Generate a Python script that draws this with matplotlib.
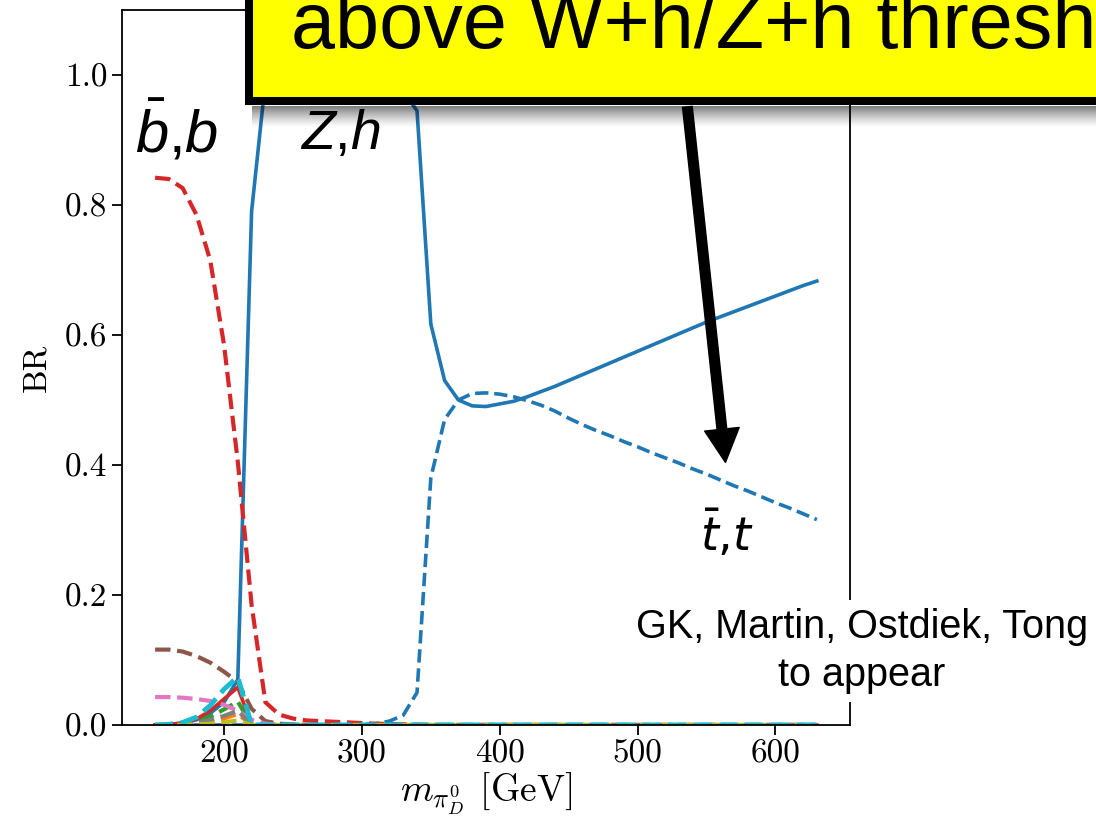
import numpy as np
import matplotlib.pyplot as plt
from matplotlib.patches import Rectangle

plt.rcParams['font.family'] = 'cmr10'
plt.rcParams['mathtext.fontset'] = 'cm'
plt.rcParams['axes.unicode_minus'] = False
plt.rcParams['mathtext.rm'] = 'Liberation Sans'
plt.rcParams['mathtext.it'] = 'Liberation Sans:italic'

# dark pion mass grid [GeV]
mass = [150, 160, 170, 180, 190, 200, 210, 220, 230, 240, 250, 260, 270, 280, 290,
        300, 310, 320, 330, 340, 350, 360, 370, 380, 390, 400, 410, 420, 430, 440,
        450, 460, 470, 480, 490, 500, 510, 520, 530, 540, 550, 560, 570, 580, 590,
        600, 610, 620, 630]

br_zh = [0.0, 0.001, 0.003, 0.008, 0.018, 0.035, 0.07, 0.79, 0.99, 0.985, 0.988,
         0.99, 0.99, 0.99, 0.99, 0.99, 0.99, 0.985, 0.975, 0.945, 0.617, 0.53, 0.50,
         0.491, 0.49, 0.494, 0.498, 0.505, 0.513, 0.521, 0.530, 0.539, 0.548, 0.557,
         0.566, 0.575, 0.584, 0.593, 0.602, 0.611, 0.620, 0.628, 0.636, 0.644, 0.652,
         0.660, 0.668, 0.676, 0.683]

br_tt = [0.0, 0.0, 0.0, 0.0, 0.0, 0.0, 0.0, 0.0, 0.0, 0.0, 0.0, 0.0, 0.0, 0.0, 0.0,
         0.001, 0.002, 0.006, 0.015, 0.05, 0.38, 0.47, 0.50, 0.51, 0.511, 0.509,
         0.505, 0.499, 0.492, 0.483, 0.472, 0.462, 0.453, 0.445, 0.436, 0.428, 0.419,
         0.411, 0.403, 0.394, 0.386, 0.377, 0.368, 0.360, 0.351, 0.342, 0.334, 0.325,
         0.316]

br_bb = [0.842, 0.840, 0.826, 0.785, 0.715, 0.585, 0.405, 0.185, 0.035, 0.016, 0.010,
         0.007, 0.006, 0.005, 0.004, 0.003, 0.002, 0.0015, 0.001, 0.0005] + [0.0] * 29

# smaller channels, 150-250 GeV, zero above
br_brown = [0.116, 0.116, 0.113, 0.106, 0.096, 0.082, 0.066, 0.025, 0.006, 0.002, 0.001]
br_pink = [0.043, 0.043, 0.042, 0.040, 0.037, 0.031, 0.022, 0.008, 0.002, 0.0005, 0.0]
br_cyan = [0.0, 0.001, 0.004, 0.012, 0.030, 0.055, 0.074, 0.0, 0.0, 0.0, 0.0]
br_red = [0.0, 0.001, 0.003, 0.009, 0.022, 0.040, 0.058, 0.0, 0.0, 0.0, 0.0]
br_green = [0.0, 0.0, 0.002, 0.006, 0.013, 0.024, 0.036, 0.0, 0.0, 0.0, 0.0]
br_gray = [0.0, 0.0, 0.001, 0.003, 0.008, 0.014, 0.022, 0.0, 0.0, 0.0, 0.0]
br_orange = [0.0, 0.0, 0.0, 0.002, 0.005, 0.010, 0.017, 0.0, 0.0, 0.0, 0.0]
br_olive = [0.0, 0.0, 0.0, 0.001, 0.002, 0.004, 0.007, 0.0, 0.0, 0.0, 0.0]


def pad(vals):
    return vals + [0.0] * (len(mass) - len(vals))


fig = plt.figure(figsize=(10.96, 8.22), dpi=100)
ax = fig.add_axes([0.1113, 0.118, 0.6642, 0.8698])

ax.plot(mass, br_zh, color='tab:blue', lw=2.6)
ax.plot(mass, br_tt, color='tab:blue', lw=2.6, ls='--')
ax.plot(mass, pad(br_orange), color='tab:orange', lw=3, ls='--')
ax.plot(mass, pad(br_green), color='tab:green', lw=3, ls='--')
ax.plot(mass, br_bb, color='tab:red', lw=3, ls='--')
ax.plot(mass, pad(br_red), color='tab:red', lw=2.6)
ax.plot(mass, pad(br_brown), color='tab:brown', lw=3, ls='--')
ax.plot(mass, pad(br_pink), color='tab:pink', lw=3, ls='--')
ax.plot(mass, pad(br_gray), color='tab:gray', lw=3, ls='--')
ax.plot(mass, pad(br_olive), color='tab:olive', lw=3, ls='--')
ax.plot(mass, pad(br_cyan), color='tab:cyan', lw=3.5, ls='--')

ax.set_xlim(126, 654)
ax.set_ylim(0, 1.1)
ax.set_xticks([200, 300, 400, 500, 600])
ax.set_yticks([0.0, 0.2, 0.4, 0.6, 0.8, 1.0])
ax.tick_params(labelsize=24, length=7, width=1.3)
for s in ax.spines.values():
    s.set_linewidth(1.3)
ax.set_xlabel(r'$m_{\pi_D^0}$ [GeV]', fontsize=27, labelpad=2)
ax.set_ylabel('BR', fontsize=24, labelpad=10)

ax.text(135.4, 0.881, r'$\bar{b}$,$b$', fontsize=43, family='Liberation Sans',
        math_fontfamily='custom')
ax.text(255.2, 0.886, r'$Z$,$h$', fontsize=40, family='Liberation Sans',
        math_fontfamily='custom')
ax.text(545.6, 0.267, r'$\bar{t}$,$t$', fontsize=33, family='DejaVu Sans',
        math_fontfamily='dejavusans')

ax.annotate('', xy=(563.7, 0.404), xytext=(536.1, 0.951), zorder=6,
            arrowprops=dict(facecolor='black', edgecolor='black', width=7,
                            headwidth=25, headlength=24, shrink=0))

# slide overlay: drop shadow, yellow box, caption
sh = fig.add_axes([252 / 1096, 1 - 128 / 822, 844 / 1096, 22 / 822])
grad = np.zeros((50, 2, 4))
grad[:, :, 3] = np.linspace(0.6, 0.0, 50)[:, None] ** 1.3
sh.imshow(grad, aspect='auto', extent=(0, 1, 0, 1))
sh.set_axis_off()
sh.set_zorder(2)

fig.add_artist(Rectangle((249 / 1096, 1 - 101 / 822), 1.0, 0.3,
                         transform=fig.transFigure, facecolor='#ffff00',
                         edgecolor='black', lw=5.8, zorder=3))
fig.text(291 / 1096, 1 - 48 / 822, 'above W+h/Z+h threshold', fontsize=57,
         family='Liberation Sans', va='baseline', zorder=4)

fig.text(862 / 1096, 1 - 651 / 822, 'GK, Martin, Ostdiek, Tong\nto appear',
         fontsize=28.5, family='Liberation Sans', ha='center',
         va='center', linespacing=1.3, zorder=4,
         bbox=dict(facecolor='white', edgecolor='none', pad=6))

fig.savefig('out.png', dpi=100)
